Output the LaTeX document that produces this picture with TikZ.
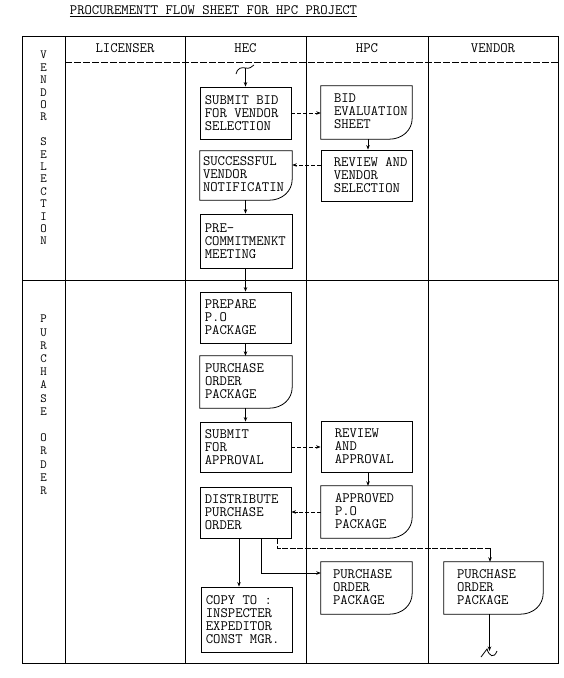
\documentclass[tikz,border=0pt]{standalone}
\usetikzlibrary{arrows.meta}
\newcommand\boxfont{\fontsize{14.3}{13}\selectfont\ttfamily}
\newcommand\sidefont{\fontsize{12.5}{12.4}\selectfont\ttfamily}
\begin{document}
\begin{tikzpicture}[x=1pt,y=-1pt,
  frame/.style={line width=0.9pt},
  rbox/.style={draw,line width=0.8pt,inner sep=0pt},
  dbox/.style={draw=none,inner sep=0pt},
  sz/.style 2 args={minimum width=#1,minimum height=#2},
  txt/.style={align=left,inner sep=0pt,font=\boxfont,anchor=west},
  hdr/.style={inner sep=0pt,font=\boxfont},
  side/.style={align=center,inner sep=0pt,font=\sidefont},
  ln/.style={line width=0.8pt},
  arr/.style={line width=0.8pt,-{Stealth[length=4.5pt,width=3.5pt]}},
  darr/.style={arr,dash pattern=on 4pt off 1.8pt}
]
\useasboundingbox (0,0) rectangle (564,678);
\fill[white] (0,0) rectangle (564,678);

% title
\node[hdr] (title) at (213.5,11) {\underline{PROCUREMENTT FLOW SHEET FOR HPC PROJECT}};

% frame
\draw[frame] (22,36) rectangle (558,663);
\foreach \x in {65,185,306,428} \draw[frame] (\x,36) -- (\x,663);
\draw[frame] (22,280) -- (558,280);
\draw[line width=0.8pt,dash pattern=on 7pt off 2pt] (65,62) -- (558,62);

% headers
\node[hdr] (hl) at (125,48) {LICENSER};
\node[hdr] (hh) at (245.5,48) {HEC};
\node[hdr] (hp) at (367,48) {HPC};
\node[hdr] (hv) at (493,48) {VENDOR};

% side labels
\node[side] (sv) at (43.5,148) {V\\E\\N\\D\\O\\R\\\mbox{}\\S\\E\\L\\E\\C\\T\\I\\O\\N};
\node[side,font=\fontsize{12.5}{13.2}\selectfont\ttfamily] (sp) at (43.5,405) {P\\U\\R\\C\\H\\A\\S\\E\\\mbox{}\\O\\R\\D\\E\\R};

% HEC boxes
\node[rbox,sz={91pt}{52pt}] (sub1) at (245.5,113) {};
\node[txt] (sub1t) at ([xshift=5pt]sub1.west) {SUBMIT BID\\FOR VENDOR\\SELECTION};
\node[dbox,sz={92pt}{49pt}] (succ) at (246,175.5) {};
\node[txt] (succt) at ([xshift=3pt,yshift=1pt]succ.west) {SUCCESSFUL\\VENDOR\\NOTIFICATIN};
\node[rbox,sz={92pt}{54pt}] (pre) at (246,241) {};
\node[txt] (pret) at ([xshift=5pt]pre.west) {PRE-\\COMMITMENKT\\MEETING};
\node[rbox,sz={91pt}{51pt}] (prep) at (245.5,317.5) {};
\node[txt] (prept) at ([xshift=5pt]prep.west) {PREPARE\\P.O\\PACKAGE};
\node[dbox,sz={92pt}{52pt}] (pop1) at (246,382) {};
\node[txt] (pop1t) at ([xshift=5pt,yshift=1pt]pop1.west) {PURCHASE\\ORDER\\PACKAGE};
\node[rbox,sz={91pt}{50pt}] (subap) at (245.5,447) {};
\node[txt] (subapt) at ([xshift=5pt]subap.west) {SUBMIT\\FOR\\APPROVAL};
\node[rbox,sz={91pt}{51pt}] (dist) at (245.5,512.5) {};
\node[txt] (distt) at ([xshift=5pt]dist.west) {DISTRIBUTE\\PURCHASE\\ORDER};
\node[rbox,sz={91pt}{65pt}] (copy) at (246.5,619.5) {};
\node[txt] (copyt) at ([xshift=5pt]copy.west) {COPY TO :\\INSPECTER\\EXPEDITOR\\CONST MGR.};

% HPC boxes
\node[dbox,sz={91pt}{53pt}] (bideval) at (366.5,112.5) {};
\node[txt] (bidevalt) at ([xshift=13pt,yshift=1pt]bideval.west) {BID\\EVALUATION\\SHEET};
\node[rbox,sz={91pt}{51pt}] (revsel) at (366.5,175.5) {};
\node[txt] (revselt) at ([xshift=13pt]revsel.west) {REVIEW AND\\VENDOR\\SELECTION};
\node[rbox,sz={91pt}{51pt}] (revap) at (366.5,446.5) {};
\node[txt] (revapt) at ([xshift=14pt]revap.west) {REVIEW\\AND\\APPROVAL};
\node[dbox,sz={91pt}{52pt}] (appr) at (366.5,512) {};
\node[txt] (apprt) at ([xshift=14pt,yshift=1pt]appr.west) {APPROVED\\P.O\\PACKAGE};
\node[dbox,sz={91pt}{52pt}] (pop2) at (366.5,588) {};
\node[txt] (pop2t) at ([xshift=12pt,yshift=1pt]pop2.west) {PURCHASE\\ORDER\\PACKAGE};

% Vendor box
\node[dbox,sz={99pt}{52pt}] (pop3) at (493.5,588) {};
\node[txt] (pop3t) at ([xshift=13pt,yshift=1pt]pop3.west) {PURCHASE\\ORDER\\PACKAGE};

% document shapes
\foreach \n in {succ,pop1,bideval,appr,pop2,pop3}
  \draw[ln] (\n.north west) -- (\n.north east) -- ([yshift=21pt]\n.south east)
    .. controls ([yshift=9pt]\n.south east) and ([xshift=-10pt]\n.south east)
    .. ([xshift=-23pt]\n.south east) -- (\n.south west) -- cycle;

% start
\coordinate (start) at (245.5,68);
\draw[ln] (236,74) .. controls (237,68) and (242,67) .. (245.5,68)
  .. controls (249,69) and (252,67) .. (254,65);
\draw[arr] (start) -- (start |- sub1.north);

% connectors
\draw[darr] (sub1.east) -- (sub1.east -| bideval.west);
\draw[arr] ([xshift=1.5pt]bideval.south) -- ([xshift=1.5pt]revsel.north);
\draw[darr] ([yshift=10.5pt]revsel.west) -- ([yshift=10.5pt]succ.east);
\draw[arr] ([xshift=-0.5pt]succ.south) -- ([xshift=-0.5pt]succ.south |- pre.north);
\draw[arr] ([xshift=-0.5pt]pre.south) -- ([xshift=-0.5pt]pre.south |- prep.north);
\draw[arr] (prep.south) -- (prep.south |- pop1.north);
\draw[arr] (pop1.south -| prep.south) -- (prep.south |- subap.north);
\draw[darr] (subap.east) -- (subap.east -| revap.west);
\draw[arr] ([xshift=1.5pt]revap.south) -- ([xshift=1.5pt]appr.north);
\draw[darr] (appr.west) -- (appr.west -| dist.east);
\draw[arr] ([xshift=-6.5pt]dist.south) -- ([xshift=-6.5pt]dist.south |- copy.north);
\draw[arr] ([xshift=15.5pt]dist.south) |- ([yshift=15pt]pop2.west);
\coordinate (bend) at (490,548);
\draw[ln,dash pattern=on 6pt off 1.5pt] ([xshift=31.5pt]dist.south) |- (bend);
\draw[arr] (bend) -- (bend |- pop3.north);

% end
\coordinate (endp) at (489.5,651);
\draw[arr] (pop3.south -| endp) -- (endp);
\draw[ln] (481,657) -- (487,649) .. controls (489,656) and (494,659) .. (497,651);
\end{tikzpicture}
\end{document}
